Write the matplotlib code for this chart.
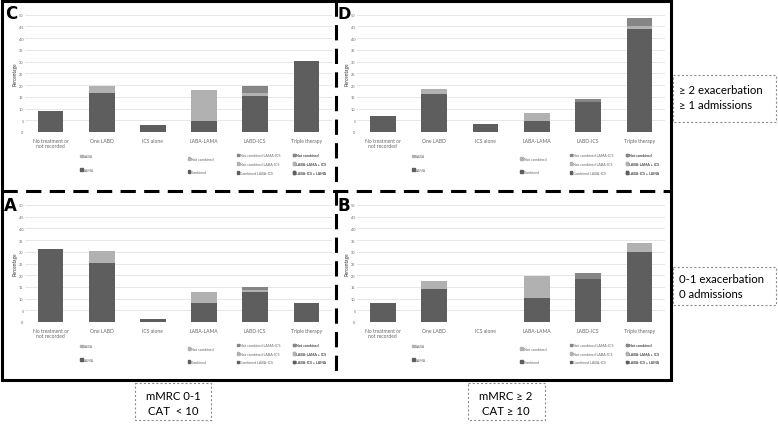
import matplotlib; matplotlib.use("Agg")
import matplotlib.pyplot as plt
from matplotlib.patches import Rectangle
import numpy as np

plt.rcParams.update({"font.family": ["Lato", "DejaVu Sans"], "lines.scale_dashes": False})
DARK = "#5e5e5e"; LIGHT = "#b1b1b1"; MID = "#858585"; TXT = "#666666"; GRID = "#e3e3e3"
W, H = 778, 427

categories = ["No treatment or\nnot recorded", "One LABD", "ICS alone", "LABA-LAMA", "LABD-ICS", "Triple therapy"]
yticks = [0, 5, 10, 15, 20, 25, 30, 35, 40, 45, 50]

# segments per category: bottom (dark), middle (light), top (medium grey)
c_dark = [9.0, 16.7, 3.0, 4.5, 15.3, 30.3]
c_light = [0, 3.0, 0, 13.5, 1.4, 0]
c_mid = [0, 0, 0, 0, 3.0, 0]

d_dark = [6.8, 16.1, 3.4, 4.5, 12.7, 44.0]
d_light = [0, 2.3, 0, 3.4, 0, 1.0]
d_mid = [0, 0, 0, 0, 1.2, 3.6]

a_dark = [31.2, 25.2, 1.4, 8.1, 13.0, 8.3]
a_light = [0, 5.0, 0, 4.9, 0.5, 0]
a_mid = [0, 0, 0, 0, 1.5, 0]

b_dark = [8.1, 14.0, 0, 10.3, 18.5, 30.1]
b_light = [0, 3.4, 0, 9.4, 0, 3.5]
b_mid = [0, 0, 0, 0, 2.3, 0]

leg_one = [("LABA", LIGHT), ("LAMA", DARK)]
leg_ll = [("Not combined", LIGHT), ("Combined", DARK)]
leg_li = [("Not combined LAMA-ICS", MID), ("Not combined LABA-ICS", LIGHT), ("Combined LABA-ICS", DARK)]
leg_tt = [("Not combined", MID), ("LABA-LAMA + ICS", LIGHT), ("LABA-ICS + LAMA", DARK)]


def px(l, t, r, b):
    return [l / W, 1 - b / H, (r - l) / W, (b - t) / H]


fig = plt.figure(figsize=(W / 100, H / 100), dpi=100)


def panel(box, dark, light, mid):
    ax = fig.add_axes(px(*box))
    x = np.arange(len(categories))
    dark = np.array(dark); light = np.array(light); mid = np.array(mid)
    ax.bar(x, dark, 0.5, color=DARK, zorder=3)
    ax.bar(x, light, 0.5, bottom=dark, color=LIGHT, zorder=3)
    ax.bar(x, mid, 0.5, bottom=dark + light, color=MID, zorder=3)
    ax.set_xlim(-0.5, len(categories) - 0.5); ax.set_ylim(0, 50)
    ax.set_yticks(yticks)
    ax.set_xticks(x, categories)
    ax.tick_params(axis="y", labelsize=2.8, colors=TXT, length=0, pad=1)
    ax.tick_params(axis="x", labelsize=3.6, colors=TXT, length=0, pad=4)
    ax.grid(axis="y", color=GRID, lw=0.6, zorder=0)
    for s in ax.spines.values(): s.set_visible(False)
    ax.axhline(0, color="#d0d0d0", lw=0.6, zorder=2)
    ax.set_ylabel("Percentage", fontsize=3.4, color="#333333")
    ax.yaxis.set_label_coords(-0.025, 0.5)
    for items, xa, ya in [(leg_one, 0.18, -0.19), (leg_ll, 0.53, -0.21), (leg_li, 0.69, -0.18), (leg_tt, 0.872, -0.18)]:
        hs = [Rectangle((0, 0), 1, 1, color=c) for _, c in items]
        sp = 2.6 if len(items) == 2 else 1.3
        lg = ax.legend(hs, [n for n, _ in items], loc="upper left", bbox_to_anchor=(xa, ya), frameon=False,
                       fontsize=2.6, handlelength=0.7, handleheight=0.7, handletextpad=0.3,
                       labelspacing=sp, labelcolor=TXT, borderaxespad=0, borderpad=0)
        ax.add_artist(lg)
    return ax


panel((25, 15.7, 332, 133), c_dark, c_light, c_mid)
panel((357, 15.7, 665, 133), d_dark, d_light, d_mid)
panel((25, 206, 332, 323), a_dark, a_light, a_mid)
panel((357, 206, 665, 323), b_dark, b_light, b_mid)

# overlay for frame, dashed separators, labels and side boxes
ov = fig.add_axes([0, 0, 1, 1], zorder=10)
ov.set_xlim(0, W); ov.set_ylim(H, 0); ov.axis("off"); ov.patch.set_visible(False)
ov.add_patch(Rectangle((2, 2), 669, 379, fill=False, ec="black", lw=2.2))
ov.plot([336, 336], [2, 381], color="black", lw=2.2, dashes=(11, 6))
ov.plot([2, 671], [191.5, 191.5], color="black", lw=2.2, dashes=(11, 6))
for s, xx, yy in [("C", 5, 19), ("D", 337.5, 19), ("A", 4, 211), ("B", 338, 211)]:
    ov.text(xx, yy, s, fontsize=11.5 if s == "D" else 12, fontweight="bold", family=["DejaVu Sans"], va="baseline")

dot = dict(fill=False, ec="#8a8a8a", lw=0.8, ls=(0, (1.5, 1.5)))
ov.add_patch(Rectangle((673, 76), 103, 47, **dot))
ov.add_patch(Rectangle((673, 268), 103, 38, **dot))
ov.add_patch(Rectangle((135, 384), 76, 37, **dot))
ov.add_patch(Rectangle((468, 384), 77, 37, **dot))
fs = 8.2
ov.text(679, 98, "≥ 2 exacerbation\n≥ 1 admissions", fontsize=fs, va="center", ha="left", linespacing=1.35)
ov.text(679, 287, "0-1 exacerbation\n0 admissions", fontsize=fs, va="center", ha="left", linespacing=1.35)
ov.text(173, 404, "mMRC 0-1\nCAT  < 10", fontsize=fs, va="center", ha="center", linespacing=1.35)
ov.text(506, 404, "mMRC ≥ 2\nCAT ≥ 10", fontsize=fs, va="center", ha="center", linespacing=1.35)

fig.savefig("out.png", dpi=100, facecolor="white")
